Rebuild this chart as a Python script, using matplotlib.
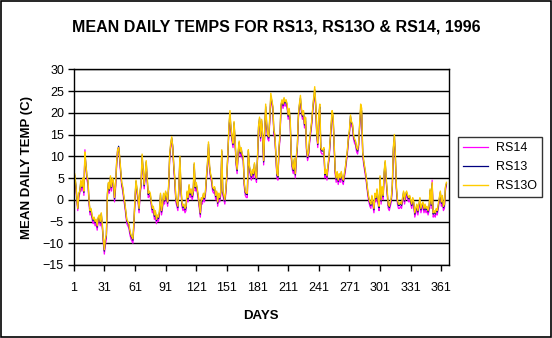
import numpy as np
import matplotlib
matplotlib.use("Agg")
import matplotlib.pyplot as plt

plt.rcParams['font.family'] = ['Liberation Sans', 'DejaVu Sans']

# days of 1996
days = np.arange(1, 367)
tick_days = [1, 31, 61, 91, 121, 151, 181, 211, 241, 271, 301, 331, 361]

# mean daily temps (C)
rs13o = [
    4.5, 6.0, 3.8, 1.0, -2.0, 1.5, 2.0, 4.5, 3.0, 5.0,
    2.0, 11.0, 8.0, 5.5, 4.5, 0.0, -2.5, -2.0, -3.5, -4.5,
    -4.0, -5.0, -4.5, -6.0, -4.0, -3.5, -5.0, -3.0, -5.5, -9.0,
    -11.5, -9.0, -8.0, 1.5, 4.0, 2.5, 5.5, 3.0, 5.0, 4.0,
    0.5, 3.5, 8.5, 11.5, 12.0, 10.0, 7.0, 4.0, 3.0, 1.0,
    -0.5, -2.5, -4.5, -5.0, -5.5, -7.0, -8.0, -8.5, -9.0, -5.0,
    0.5, 4.5, 2.5, 0.5, -2.0, 2.0, 4.0, 10.5, 7.0, 3.5,
    6.0, 9.0, 5.0, 1.5, 2.0, 1.5, -0.5, -2.0, -1.5, -3.5,
    -2.5, -4.5, -3.5, -4.0, -2.5, 1.5, -2.5, -1.0, 1.5, 0.0,
    2.0, 1.0, -0.5, 3.5, 10.5, 13.0, 14.5, 12.0, 8.0, 5.0,
    0.5, -0.5, -1.5, 3.0, 10.0, 3.0, -0.5, -1.5, -1.0, -2.0,
    -1.5, 2.0, 0.5, 3.5, 1.5, 2.5, 1.0, 2.0, 8.5, 3.0,
    4.0, 2.5, 1.0, -1.0, -3.0, 0.5, 0.0, 1.5, 0.5, 2.0,
    5.5, 8.5, 13.3, 8.0, 6.0, 5.0, 3.0, 2.5, 3.0, 1.0,
    2.0, -0.5, 1.5, 0.5, 2.0, 11.5, 2.0, 1.0, 0.0, 2.5,
    6.0, 11.0, 17.0, 20.5, 16.5, 14.5, 13.0, 18.0, 14.0, 9.0,
    7.0, 11.0, 13.5, 11.0, 12.0, 10.5, 10.0, 4.0, 2.0, 1.5,
    1.5, 11.5, 8.0, 6.5, 5.5, 7.0, 6.0, 8.5, 6.0, 5.0,
    10.0, 17.0, 19.0, 14.5, 18.5, 15.0, 9.0, 16.0, 22.0, 17.5,
    15.0, 14.5, 19.0, 24.5, 23.0, 21.5, 16.0, 15.0, 10.5, 6.0,
    5.5, 12.0, 15.0, 22.0, 23.0, 22.0, 23.5, 22.5, 23.0, 22.0,
    19.5, 21.0, 18.5, 10.5, 8.0, 7.0, 9.5, 6.0, 10.0, 12.5,
    19.5, 22.0, 24.0, 21.0, 19.5, 20.5, 17.5, 19.0, 12.0, 10.0,
    11.0, 14.0, 16.0, 18.0, 21.0, 23.5, 26.0, 22.0, 15.5, 13.0,
    20.0, 22.0, 12.0, 11.5, 11.5, 12.0, 6.0, 7.0, 5.5, 8.0,
    10.0, 13.5, 17.0, 20.5, 19.5, 13.0, 7.0, 5.0, 6.5, 4.5,
    6.0, 5.0, 6.5, 5.0, 4.5, 6.0, 7.5, 9.5, 11.5, 14.5,
    16.0, 19.5, 18.0, 17.5, 15.0, 14.0, 13.5, 12.0, 11.5, 13.0,
    17.5, 22.0, 21.0, 11.0, 9.0, 7.5, 6.0, 4.0, 2.0, 0.5,
    -0.5, -1.0, 1.0, -0.5, -2.0, 1.5, 0.5, 2.5, 0.0, -1.5,
    5.5, 0.0, 3.0, 1.0, 6.5, 9.0, 5.0, 2.0, -1.0, -1.5,
    -0.5, 0.5, 3.5, 12.0, 15.0, 10.0, 3.0, 0.0, -1.0, -1.0,
    -0.5, -1.0, 0.5, 2.0, 0.0, 1.5, 2.0, 1.0, 0.5, 1.0,
    0.0, -1.0, 0.5, -0.5, -3.0, -2.0, -1.0, -2.5, -1.0, 0.5,
    -2.0, -1.0, -0.5, -2.0, -1.0, -2.0, -1.5, -2.5, -1.5, 2.5,
    -1.0, 4.0, -3.0, -2.5, -3.0, -2.0, -2.5, -1.0, 0.5, 2.0,
    -0.5, 1.0, -1.5, -1.0, 3.0, 4.0,
]

rs13 = [
    4.2, 5.6, 3.6, 0.8, -2.0, 1.2, 2.0, 4.2, 2.8, 4.6,
    1.7, 10.6, 7.8, 5.3, 4.2, -0.3, -2.8, -2.3, -3.8, -4.8,
    -4.2, -5.3, -4.8, -6.3, -4.2, -3.8, -5.3, -3.2, -5.8, -9.3,
    -11.8, -9.3, -8.3, 1.2, 3.8, 2.2, 5.2, 2.8, 4.7, 3.7,
    0.2, 3.2, 8.2, 11.2, 12.3, 9.7, 6.7, 3.7, 2.7, 0.7,
    -0.8, -2.8, -4.8, -5.3, -5.8, -7.3, -8.3, -8.8, -9.3, -5.3,
    0.2, 4.2, 2.2, 0.2, -2.3, 1.7, 3.7, 10.2, 6.7, 3.2,
    5.7, 8.7, 4.7, 1.2, 1.7, 1.2, -0.8, -2.3, -1.8, -3.8,
    -2.8, -4.8, -3.8, -4.3, -2.8, 1.2, -2.8, -1.3, 1.2, -0.3,
    1.7, 0.7, -0.8, 3.2, 10.2, 12.7, 14.2, 12.3, 7.7, 4.7,
    0.2, -0.8, -1.8, 2.7, 9.7, 2.7, -0.8, -1.8, -1.3, -2.3,
    -1.8, 1.7, 0.2, 3.2, 1.2, 2.2, 0.7, 1.7, 8.2, 2.7,
    3.7, 2.2, 0.7, -1.3, -3.3, 0.2, -0.3, 1.2, 0.2, 1.7,
    5.2, 8.2, 12.8, 7.7, 5.7, 4.7, 2.7, 2.2, 2.7, 0.7,
    1.7, -0.8, 1.2, 0.2, 1.7, 11.2, 1.7, 0.7, -0.3, 2.2,
    5.7, 10.7, 16.7, 19.8, 16.2, 14.2, 12.7, 17.7, 13.7, 8.7,
    6.7, 10.7, 13.2, 10.7, 11.7, 10.2, 9.7, 3.7, 1.7, 1.2,
    1.2, 11.2, 7.7, 6.2, 5.2, 6.7, 5.7, 8.2, 5.7, 4.7,
    9.7, 16.7, 18.7, 14.2, 18.2, 14.7, 8.7, 15.7, 21.4, 17.2,
    14.7, 14.2, 18.7, 23.8, 22.7, 21.2, 15.7, 14.7, 10.2, 5.7,
    5.2, 11.7, 14.7, 21.7, 22.7, 21.7, 23.2, 22.2, 22.7, 21.7,
    19.2, 20.7, 18.2, 10.2, 7.7, 6.7, 9.2, 5.7, 9.7, 12.2,
    19.2, 21.7, 23.4, 20.7, 19.2, 20.2, 17.2, 18.7, 11.7, 9.7,
    10.7, 13.7, 15.7, 17.7, 20.7, 23.2, 25.3, 21.7, 15.2, 12.7,
    19.4, 21.4, 11.7, 11.2, 11.2, 11.7, 5.7, 6.7, 5.2, 7.7,
    9.7, 13.2, 16.7, 19.8, 19.2, 12.7, 6.7, 4.7, 6.2, 4.2,
    5.7, 4.7, 6.2, 4.7, 4.2, 5.7, 7.2, 9.2, 11.2, 14.2,
    15.7, 19.2, 17.7, 17.2, 14.7, 13.7, 13.2, 11.7, 11.2, 12.7,
    17.2, 21.0, 20.4, 10.7, 8.7, 7.2, 5.7, 3.7, 1.7, 0.2,
    -0.8, -1.3, 0.7, -0.8, -2.3, 1.2, 0.2, 2.2, -0.3, -1.8,
    5.2, -0.3, 2.7, 0.7, 6.2, 8.7, 4.7, 1.7, -1.3, -1.8,
    -0.8, 0.2, 3.2, 11.7, 14.7, 9.7, 2.7, -0.3, -1.3, -1.3,
    -0.8, -1.3, 0.2, 1.7, -0.3, 1.2, 1.7, 0.7, 0.2, 0.7,
    -0.3, -1.3, 0.2, -0.8, -3.3, -2.3, -1.3, -2.8, -1.3, 0.2,
    -2.3, -1.3, -0.8, -2.3, -1.3, -2.3, -1.8, -2.8, -1.8, 2.2,
    -1.3, 3.7, -3.3, -2.8, -3.3, -2.3, -2.8, -1.3, 0.2, 1.7,
    -0.8, 0.7, -1.8, -1.3, 2.7, 3.7,
]

rs14 = [
    4.0, 5.0, 3.0, 0.0, -2.5, 0.5, 1.5, 3.5, 2.0, 4.0,
    1.0, 11.5, 7.0, 4.5, 3.5, -1.0, -3.5, -3.0, -4.5, -5.5,
    -5.0, -6.0, -5.5, -7.0, -5.0, -4.5, -6.0, -4.0, -6.5, -10.0,
    -12.5, -10.5, -9.0, 0.5, 3.0, 1.5, 4.5, 2.0, 4.0, 3.0,
    -0.5, 2.5, 7.5, 11.5, 12.0, 9.0, 6.0, 3.0, 2.0, 0.0,
    -1.5, -3.5, -5.5, -6.0, -6.5, -8.0, -9.0, -9.5, -10.0, -6.0,
    -0.5, 3.5, 1.5, -0.5, -3.0, 1.0, 3.0, 9.5, 6.0, 2.5,
    5.0, 8.0, 4.0, 0.5, 1.0, 0.5, -1.5, -3.0, -2.5, -4.5,
    -3.5, -5.5, -4.5, -5.0, -3.5, 0.5, -3.5, -2.0, 0.5, -1.0,
    1.0, 0.0, -1.5, 2.5, 9.5, 12.0, 13.5, 11.5, 7.0, 4.0,
    -0.5, -1.5, -2.5, 2.0, 9.0, 2.0, -1.5, -2.5, -2.0, -3.0,
    -2.5, 1.0, -0.5, 2.5, 0.5, 1.5, 0.0, 1.0, 7.5, 2.0,
    3.0, 1.5, 0.0, -2.0, -4.0, -0.5, -1.0, 0.5, -0.5, 1.0,
    4.5, 7.5, 12.0, 7.0, 5.0, 4.0, 2.0, 1.5, 2.0, 0.0,
    1.0, -1.5, 0.5, -0.5, 1.0, 10.5, 1.0, 0.0, -1.0, 1.5,
    5.0, 10.0, 16.0, 19.0, 15.5, 13.5, 12.0, 17.0, 13.0, 8.0,
    6.0, 10.0, 12.5, 10.0, 11.0, 9.5, 9.0, 3.0, 1.0, 0.5,
    0.5, 10.5, 7.0, 5.5, 4.5, 6.0, 5.0, 7.5, 5.0, 4.0,
    9.0, 16.0, 18.0, 13.5, 17.5, 14.0, 8.0, 15.0, 20.5, 16.5,
    14.0, 13.5, 18.0, 23.0, 22.0, 20.5, 15.0, 14.0, 9.5, 5.0,
    4.5, 11.0, 14.0, 21.0, 22.0, 21.0, 22.5, 21.5, 22.0, 21.0,
    18.5, 20.0, 17.5, 9.5, 7.0, 6.0, 8.5, 5.0, 9.0, 11.5,
    18.5, 21.0, 22.5, 20.0, 18.5, 19.5, 16.5, 18.0, 11.0, 9.0,
    10.0, 13.0, 15.0, 17.0, 20.0, 22.5, 24.5, 21.0, 14.5, 12.0,
    18.5, 20.5, 11.0, 10.5, 10.5, 11.0, 5.0, 6.0, 4.5, 7.0,
    9.0, 12.5, 16.0, 19.0, 18.5, 12.0, 6.0, 4.0, 5.5, 3.5,
    5.0, 4.0, 5.5, 4.0, 3.5, 5.0, 6.5, 8.5, 10.5, 13.5,
    15.0, 18.5, 17.0, 16.5, 14.0, 13.0, 12.5, 11.0, 10.5, 12.0,
    16.5, 20.0, 19.5, 10.0, 8.0, 6.5, 5.0, 3.0, 1.0, -0.5,
    -1.5, -2.0, 0.0, -1.5, -3.0, 0.5, -0.5, 1.5, -1.0, -2.5,
    4.5, -1.0, 2.0, 0.0, 5.5, 8.0, 4.0, 1.0, -2.0, -2.5,
    -1.5, -0.5, 2.5, 11.0, 14.0, 9.0, 2.0, -1.0, -2.0, -2.0,
    -1.5, -2.0, -0.5, 1.0, -1.0, 0.5, 1.0, 0.0, -0.5, 0.0,
    -1.0, -2.0, -0.5, -1.5, -4.0, -3.0, -2.0, -3.5, -2.0, -0.5,
    -3.0, -2.0, -1.5, -3.0, -2.0, -3.0, -2.5, -3.5, -2.5, 1.5,
    -2.0, 4.5, -4.0, -3.5, -4.0, -3.0, -3.5, -2.0, -0.5, 1.0,
    -1.5, 0.0, -2.5, -2.0, 2.0, 3.5,
]

fig = plt.figure(figsize=(5.52, 3.38), dpi=100)
ax = fig.add_axes([0.1335, 0.216, 0.679, 0.579])

ax.plot(days, rs14, color='#FF00FF', lw=0.9, label='RS14')
ax.plot(days, rs13, color='#000080', lw=0.9, label='RS13')
ax.plot(days, rs13o, color='#FFCC00', lw=1.0, label='RS13O')

ax.set_xlim(1, 368)
ax.set_ylim(-15, 30)
ax.set_yticks(np.arange(-15, 31, 5))
ax.set_xticks(tick_days)
ax.yaxis.grid(True, color='black', lw=1)
ax.set_axisbelow(True)
for s in ax.spines.values():
    s.set_color('black')
    s.set_linewidth(1)
ax.tick_params(axis='x', direction='out', length=4, width=1, labelsize=9, colors='black', pad=8)
ax.tick_params(axis='y', direction='out', length=4, width=1, labelsize=9, colors='black', pad=3)

ax.set_xlabel('DAYS', fontsize=9.5, fontweight='bold', labelpad=12)
ax.set_ylabel('MEAN DAILY TEMP (C)', fontsize=9.5, fontweight='bold', labelpad=7)

fig.text(0.5, 1 - 27.5 / 338, 'MEAN DAILY TEMPS FOR RS13, RS13O & RS14, 1996',
         ha='center', va='center', fontsize=11.5, fontweight='bold')

leg = fig.legend(loc='center', bbox_to_anchor=(500 / 552, 1 - 167 / 338), fontsize=9,
                 frameon=True, fancybox=False, edgecolor='black', handlelength=2.0,
                 borderpad=0.4, labelspacing=0.55, handletextpad=0.6)
leg.get_frame().set_linewidth(1)

# outer border
fig.patches.append(plt.Rectangle((0.001, 0.002), 0.997, 0.996, transform=fig.transFigure,
                                 fill=False, edgecolor='black', lw=1.2))

fig.savefig('out.png', dpi=100)
